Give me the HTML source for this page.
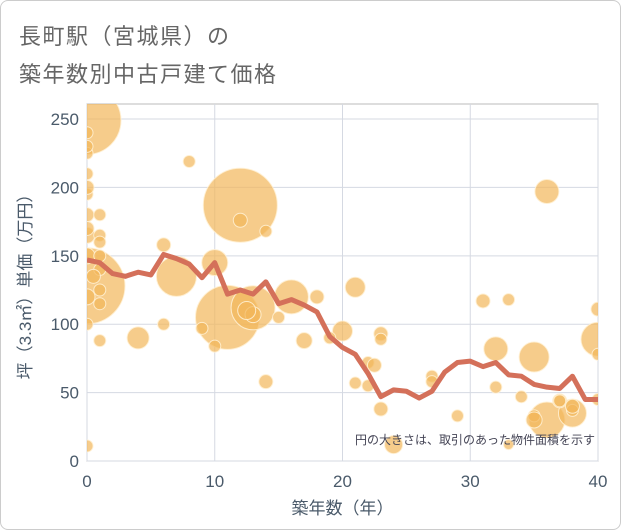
<!DOCTYPE html>
<html><head><meta charset="utf-8"><style>
body{margin:0;background:#fff;font-family:"Liberation Sans","Noto Sans CJK JP",sans-serif}
#wrap{position:absolute;left:0;top:0;width:619px;height:528px;border:1px solid #ccc;border-radius:8px;background:#fff}
.t{position:absolute;left:18px;font-size:22px;color:#666;letter-spacing:1.5px}
</style></head><body>
<div id="wrap">
<div class="t" style="top:18px">長町駅（宮城県）の</div>
<div class="t" style="top:56px">築年数別中古戸建て価格</div>
<svg id="c" width="621" height="530" style="position:absolute;left:0;top:0"></svg>
</div>
<script>
const xTicks=[0,10,20,30,40];
const yTicks=[0,50,100,150,200,250];
const lineX=[0,1,2,3,4,5,6,7,8,9,10,11,12,13,14,15,16,17,18,19,20,21,22,23,24,25,26,27,28,29,30,31,32,33,34,35,36,37,38,39,40];
const lineY=[147,145,137,135,138,136,151,148,144,134,145,122,125,122,131,115,118,114,109,91,83,78,64,47,52,51,46,51,65,72,73,69,72,63,62,56,54,53,62,45,45];
const bubX=[0,12,0,11,13,36,35,36,7,10,16,21,20,4,40,32,38,0,0,0,0,0,0,0,1,1,1,1,1,8,6,6,9,10,12,13,14,14,17,18,19,21,22,22,23,23,24,27,27,29,31,32,33,33,34,35,37,38,38,40,40,40,0,0,1,12.5,15,22.5,23,35,37,0,0,0,0,1,1,0.5];
const bubY=[249,187,128,105,112,197,76,30,135,145,120,127,95,90,89,82,35,240,225,210,195,180,165,150,180,165,160,140,115,219,158,100,97,84,176,107,168,58,88,120,90,57,72,55,93,38,12,62,58,33,117,54,118,12,47,33,44,37,40,111,78,45,11,100,88,110,105,70,89,30,44,230,200,170,120,150,125,135];
const bubR=[34,37,38,32,22,12,15,18,20,13,17,10,10,11,17,12,14,6,6,6,6,7,8,8,6,6,6,6,6,6,7,6,6,6,7,8,6,7,8,7,6,6,6,6,7,7,9,6,6,6,7,6,6,5,6,6,7,6,7,7,6,6,6,6,6,9,6,7,6,8,6,6,7,7,8,6,6,7];
const L=86,R=597,T=103,B=460,XMAX=40,YMAX=261;
const sx=v=>L+(R-L)*v/XMAX, sy=v=>B-(B-T)*v/YMAX;
const svg=document.getElementById('c'),NS='http://www.w3.org/2000/svg';
function mk(t,a,p){const e=document.createElementNS(NS,t);for(const k in a)e.setAttribute(k,a[k]);(p||svg).appendChild(e);return e;}
const bg=mk('rect',{x:L,y:T,width:R-L,height:B-T,fill:'#fff',stroke:'#bbb'});


xTicks.forEach(v=>{const g=mk('line',{x1:sx(v),x2:sx(v),y1:T,y2:B,stroke:'#d5d9e2','stroke-width':1});


const t=mk('text',{x:sx(v),y:B+26,'text-anchor':'middle','font-size':17,fill:'#4a5a6a'});t.textContent=v;

});
yTicks.forEach(v=>{const g=mk('line',{x1:L,x2:R,y1:sy(v),y2:sy(v),stroke:'#d5d9e2','stroke-width':1});


const t=mk('text',{x:L-8,y:sy(v)+6,'text-anchor':'end','font-size':17,fill:'#4a5a6a'});t.textContent=v;

});
const cg=mk('g',{});
cg.setAttribute('clip-path','url(#cp)');
const d=mk('defs',{});const cp=mk('clipPath',{id:'cp'},d);mk('rect',{x:L,y:T,width:R-L,height:B-T},cp);
bubX.forEach((x,i)=>{const c=mk('circle',{cx:sx(x),cy:sy(bubY[i]),r:bubR[i],fill:'rgba(242,182,90,0.7)',stroke:'rgba(255,240,210,0.9)','stroke-width':1},cg);

});
const pl=mk('polyline',{points:lineX.map((x,i)=>sx(x)+','+sy(lineY[i])).join(' '),fill:'none',stroke:'#d4705a','stroke-width':5,'stroke-linejoin':'round'},cg);


const n=mk('text',{x:594,y:443,'text-anchor':'end','font-size':12,fill:'#445'});n.textContent='円の大きさは、取引のあった物件面積を示す';


const xt=mk('text',{x:(L+R)/2,y:513,'text-anchor':'middle','font-size':17,fill:'#4a5a6a'});xt.textContent='築年数（年）';


const yt=mk('text',{x:0,y:0,'text-anchor':'middle','font-size':17,fill:'#4a5a6a',transform:'translate(30,'+((T+B)/2)+') rotate(-90)'});yt.textContent='坪（3.3㎡）単価（万円）';


</script>
</body></html>
